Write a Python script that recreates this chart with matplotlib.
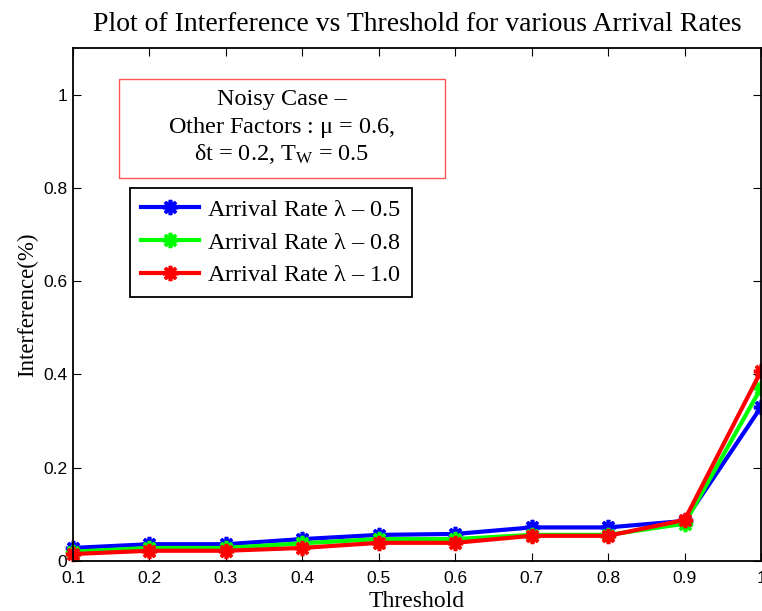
import matplotlib
matplotlib.use("Agg")
import matplotlib.pyplot as plt
from matplotlib.patches import Rectangle

thresholds = [0.1, 0.2, 0.3, 0.4, 0.5, 0.6, 0.7, 0.8, 0.9, 1.0]
rate_05 = [0.028, 0.036, 0.036, 0.047, 0.056, 0.058, 0.072, 0.072, 0.086, 0.330]
rate_08 = [0.020, 0.028, 0.028, 0.038, 0.047, 0.047, 0.056, 0.056, 0.080, 0.371]
rate_10 = [0.015, 0.022, 0.022, 0.028, 0.039, 0.039, 0.054, 0.054, 0.088, 0.407]
series_labels = [r"Arrival Rate $\lambda$ – 0.5",
                 r"Arrival Rate $\lambda$ – 0.8",
                 r"Arrival Rate $\lambda$ – 1.0"]
colors = ["#0000ff", "#00ff00", "#ff0000"]
x_ticks = [0.1, 0.2, 0.3, 0.4, 0.5, 0.6, 0.7, 0.8, 0.9, 1.0]
x_tick_labels = ["0.1", "0.2", "0.3", "0.4", "0.5", "0.6", "0.7", "0.8", "0.9", "1"]
y_ticks = [0, 0.2, 0.4, 0.6, 0.8, 1.0]
y_tick_labels = ["0", "0.2", "0.4", "0.6", "0.8", "1"]
note_lines = ["Noisy Case –",
              r"Other Factors : $\mu$ = 0.6,",
              r"$\delta$t = 0.2, T$_{\mathrm{W}}$ = 0.5"]

plt.rcParams["mathtext.fontset"] = "custom"
plt.rcParams["mathtext.rm"] = "Liberation Serif"
plt.rcParams["mathtext.it"] = "Liberation Serif"

serif = ["Liberation Serif", "DejaVu Serif"]
sans = ["Liberation Sans", "DejaVu Sans"]

fig = plt.figure(figsize=(7.62, 6.11), dpi=100)
ax = fig.add_axes([73 / 762, 50 / 611, 688 / 762, 513 / 611])

asterisk = (8, 2, 0)
for vals, lab, c in zip([rate_05, rate_08, rate_10], series_labels, colors):
    ax.plot(thresholds, vals, color=c, lw=3, marker=asterisk, markersize=11,
            markeredgewidth=2.6, label=lab, clip_on=False)

ax.set_xlim(0.1, 1.0)
ax.set_ylim(0, 1.1)
ax.set_xticks(x_ticks)
ax.set_xticklabels(x_tick_labels, family=sans, fontsize=12.5)
ax.set_yticks(y_ticks)
ax.set_yticklabels(y_tick_labels, family=sans, fontsize=12.5)
ax.tick_params(axis="x", pad=7)
ax.tick_params(axis="y", pad=4)
ax.tick_params(direction="in", top=True, right=True, length=6, width=0.8)
for s in ax.spines.values():
    s.set_linewidth(1.3)

ax.set_title("Plot of Interference vs Threshold for various Arrival Rates",
             family=serif, fontsize=20, pad=12)
ax.set_xlabel("Threshold", family=serif, fontsize=17, labelpad=4)
ax.set_ylabel("Interference(%)", family=serif, fontsize=16.5, labelpad=4)

# note box with the other simulation factors
bx0, bx1 = (119 - 73) / 688, (445 - 73) / 688
by0, by1 = (561 - 178) / 513, (561 - 79) / 513
ax.add_patch(Rectangle((bx0, by0), bx1 - bx0, by1 - by0, transform=ax.transAxes,
                       facecolor="white", edgecolor="#ff5555", lw=1.0, zorder=5))
cx = (bx0 + bx1) / 2
for line, ypx in zip(note_lines, [99, 128, 154]):
    ax.text(cx, (561 - ypx) / 513, line, transform=ax.transAxes, ha="center",
            va="center", family=serif, fontsize=17.5, zorder=6)

leg = ax.legend(loc="upper left", bbox_to_anchor=((130 - 73) / 688, (561 - 188) / 513),
                prop={"family": serif, "size": 17.5}, frameon=True, fancybox=False,
                edgecolor="black", framealpha=1, handlelength=2.4, borderpad=0.45,
                labelspacing=0.44, handletextpad=0.3, borderaxespad=0)
leg.get_frame().set_linewidth(1.3)
leg.set_zorder(7)

fig.savefig("out.png", dpi=100)
